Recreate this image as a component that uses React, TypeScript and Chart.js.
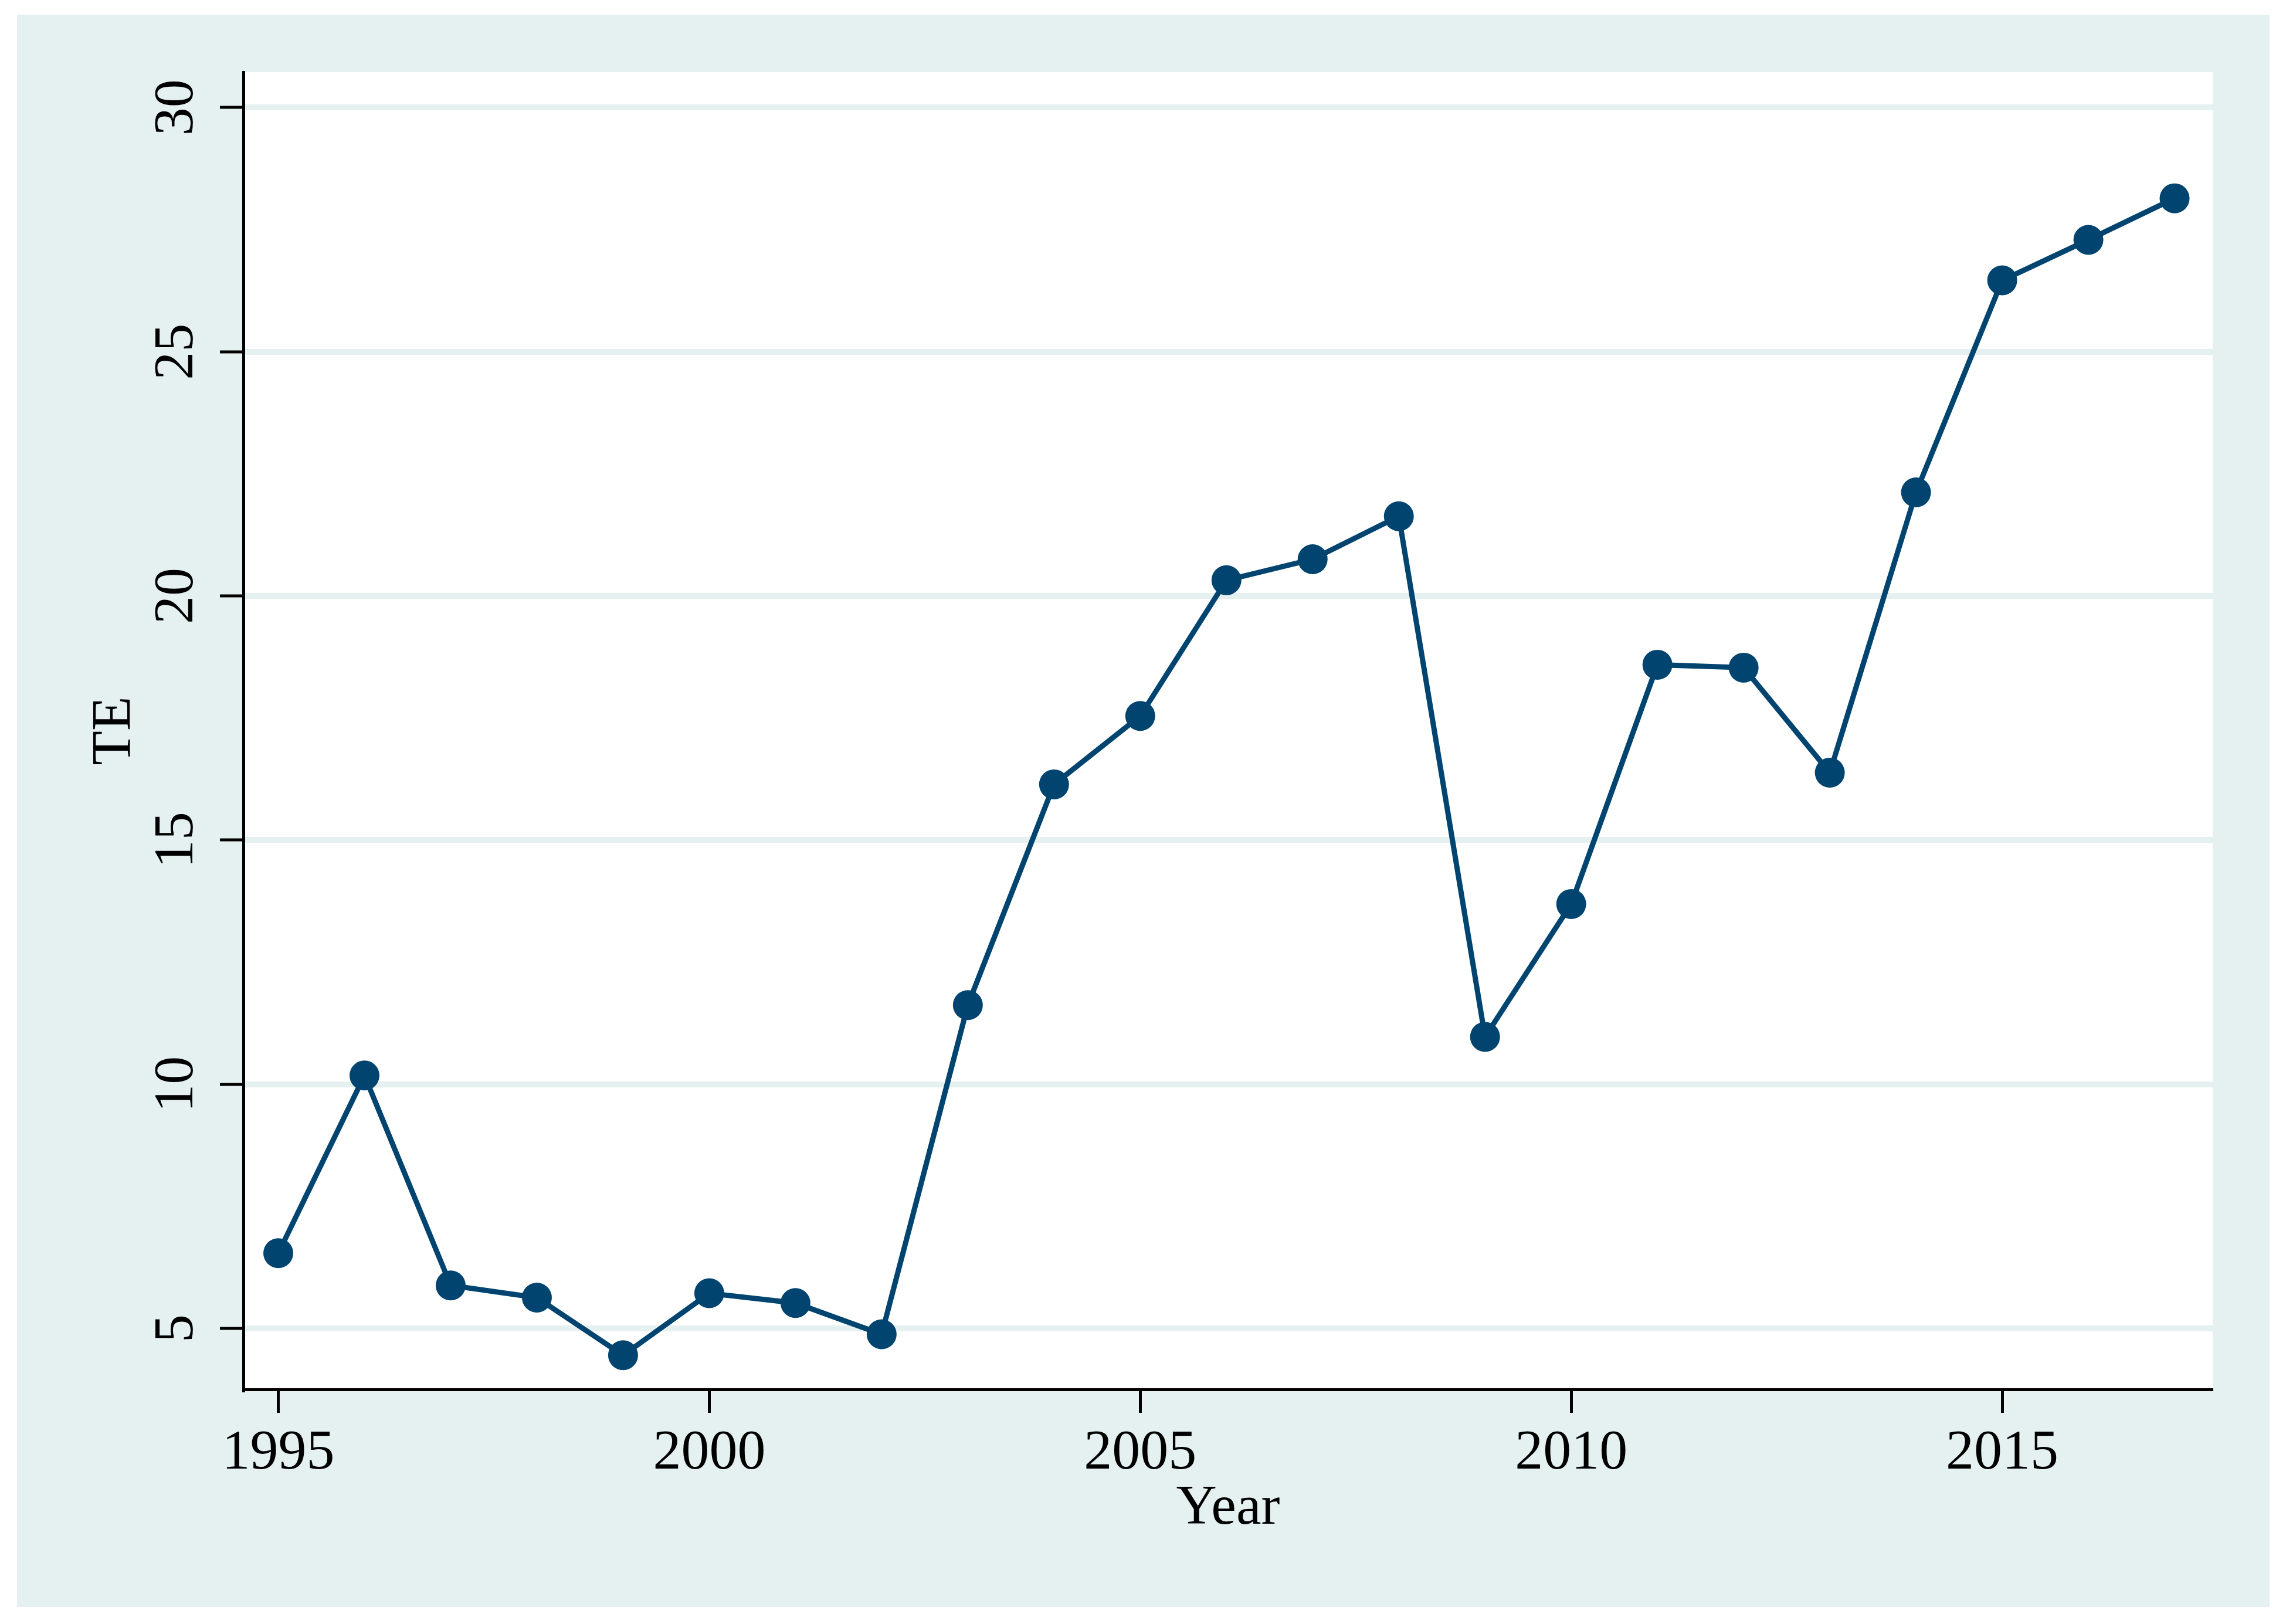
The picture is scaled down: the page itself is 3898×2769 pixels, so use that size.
import React, { useEffect, useRef } from "react";
import { Chart, registerables } from "chart.js";

Chart.register(...registerables);

// ---- Data ----
const years = [
  1995, 1996, 1997, 1998, 1999, 2000, 2001, 2002, 2003, 2004, 2005, 2006,
  2007, 2008, 2009, 2010, 2011, 2012, 2013, 2014, 2015, 2016, 2017,
];
const teValues = [
  6.54, 10.18, 5.88, 5.63, 4.45, 5.72, 5.52, 4.88, 11.62, 16.14, 17.54, 20.32,
  20.75, 21.63, 10.97, 13.69, 18.59, 18.53, 16.38, 22.12, 26.46, 27.29, 28.14,
];
const xTickValues = [1995, 2000, 2005, 2010, 2015];
const yTickValues = [5, 10, 15, 20, 25, 30];
const xAxisTitle = "Year";
const yAxisTitle = "TE";

// ---- Styling ----
const W = 3898;
const H = 2769;
const FONT = '"Liberation Serif", "Times New Roman", Times, serif';
const BG = "#e5f1f1";
const NAVY = "#00446f";
const FONT_SIZE = 96;

export default function App() {
  const ref = useRef<HTMLCanvasElement | null>(null);

  useEffect(() => {
    const canvas = ref.current;
    if (!canvas) return;

    const bgPlugin = {
      id: "stataBackground",
      beforeDraw(chart: any) {
        const { ctx, chartArea } = chart;
        ctx.save();
        ctx.fillStyle = "#ffffff";
        ctx.fillRect(0, 0, W, H);
        ctx.fillStyle = BG;
        ctx.fillRect(29, 25, 3841, 2715);
        ctx.fillStyle = "#ffffff";
        ctx.fillRect(
          chartArea.left,
          chartArea.top,
          chartArea.right - chartArea.left,
          chartArea.bottom - chartArea.top
        );
        ctx.restore();
      },
    };

    const yLabelPlugin = {
      id: "rotatedYTickLabels",
      afterDraw(chart: any) {
        const ys = chart.scales.y;
        const ctx = chart.ctx;
        const cx = chart.chartArea.left - 112;
        ctx.save();
        ctx.font = `${FONT_SIZE}px ${FONT}`;
        ctx.fillStyle = "#000";
        ctx.textAlign = "center";
        ctx.textBaseline = "middle";
        for (const v of yTickValues) {
          const py = ys.getPixelForValue(v);
          ctx.save();
          ctx.translate(cx, py);
          ctx.rotate(-Math.PI / 2);
          ctx.fillText(String(v), 0, 0);
          ctx.restore();
        }
        ctx.restore();
      },
    };

    const chart = new Chart(canvas, {
      type: "line",
      data: {
        datasets: [
          {
            label: yAxisTitle,
            data: years.map((yr, i) => ({ x: yr, y: teValues[i] })),
            borderColor: NAVY,
            backgroundColor: NAVY,
            borderWidth: 9,
            pointRadius: 25.5,
            pointHoverRadius: 25.5,
            pointBorderWidth: 0,
            pointBackgroundColor: NAVY,
            tension: 0,
            fill: false,
            clip: false as any,
          },
        ],
      },
      options: {
        animation: false,
        responsive: false,
        devicePixelRatio: 1,
        events: [],
        layout: { padding: { left: 0, top: 123, right: 125, bottom: 0 } },
        plugins: {
          legend: { display: false },
          tooltip: { enabled: false },
        },
        scales: {
          x: {
            type: "linear",
            position: "bottom",
            min: 1994.595,
            max: 2017.442,
            afterBuildTicks: (s: any) => {
              s.ticks = xTickValues.map((v) => ({ value: v }));
            },
            afterFit: (s: any) => {
              s.height = 400;
            },
            grid: {
              drawOnChartArea: false,
              drawTicks: true,
              tickLength: 40,
              tickWidth: 5,
              tickColor: "#000",
            },
            border: { display: true, color: "#000", width: 5 },
            ticks: {
              font: { family: FONT, size: FONT_SIZE },
              color: "#000",
              padding: 12,
              minRotation: 0,
              maxRotation: 0,
              autoSkip: false,
              callback: (v: any) => String(v),
            },
            title: {
              display: true,
              text: xAxisTitle,
              font: { family: FONT, size: FONT_SIZE },
              color: "#000",
              padding: { top: 0, bottom: 139 },
            },
          },
          y: {
            type: "linear",
            min: 3.751,
            max: 30.724,
            afterBuildTicks: (s: any) => {
              s.ticks = yTickValues.map((v) => ({ value: v }));
            },
            afterFit: (s: any) => {
              s.width = 415;
            },
            grid: {
              color: BG,
              lineWidth: 10,
              drawTicks: true,
              tickLength: 40,
              tickWidth: 5,
              tickColor: "#000",
            },
            border: { display: true, color: "#000", width: 5 },
            ticks: { display: false },
            title: {
              display: true,
              text: yAxisTitle,
              font: { family: FONT, size: FONT_SIZE },
              color: "#000",
              padding: { top: 139, bottom: 0 },
            },
          },
        },
      } as any,
      plugins: [bgPlugin, yLabelPlugin],
    });

    return () => {
      chart.destroy();
    };
  }, []);

  return (
    <div style={{ position: "absolute", left: 0, top: 0, width: W, height: H }}>
      <canvas ref={ref} width={W} height={H} style={{ width: W, height: H, display: "block" }} />
    </div>
  );
}
